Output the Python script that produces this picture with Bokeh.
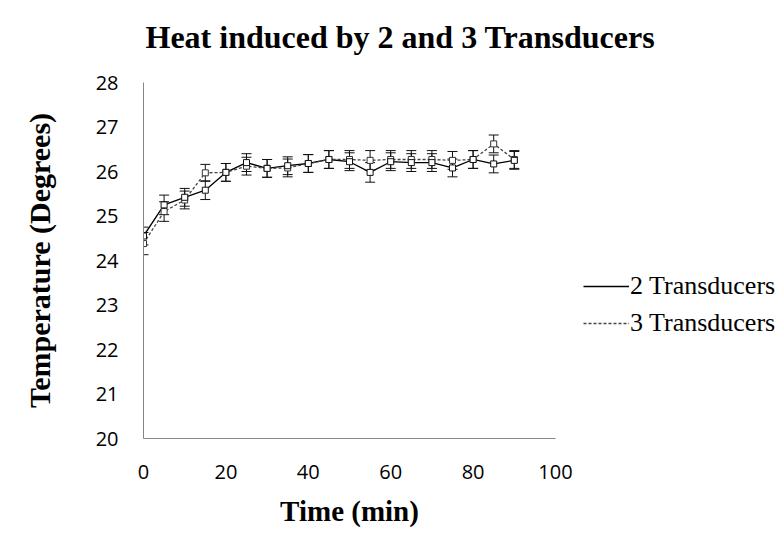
from bokeh.plotting import figure
from bokeh.models import ColumnDataSource, Whisker, TeeHead, Legend, LegendItem, FixedTicker, Range1d, Title
from bokeh.embed import file_html
from bokeh.resources import INLINE

time_min = [0, 5, 10, 15, 20, 25, 30, 35, 40, 45, 50, 55, 60, 65, 70, 75, 80, 85, 90]
temp_2 = [24.55, 25.25, 25.42, 25.58, 25.98, 26.2, 26.07, 26.13, 26.18, 26.27, 26.22, 25.98, 26.22, 26.2, 26.2, 26.08, 26.27, 26.17, 26.25]
temp_3 = [24.38, 25.1, 25.36, 25.97, 25.98, 26.12, 26.07, 26.08, 26.18, 26.27, 26.27, 26.25, 26.27, 26.27, 26.27, 26.25, 26.27, 26.62, 26.27]
err_2 = [0.2, 0.22, 0.2, 0.21, 0.2, 0.2, 0.2, 0.2, 0.2, 0.2, 0.2, 0.22, 0.2, 0.2, 0.2, 0.2, 0.2, 0.2, 0.2]
err_3 = [0.25, 0.22, 0.2, 0.19, 0.2, 0.2, 0.2, 0.2, 0.2, 0.2, 0.2, 0.22, 0.2, 0.2, 0.2, 0.2, 0.2, 0.2, 0.2]
x_ticks = [0, 20, 40, 60, 80, 100]
y_ticks = [20, 21, 22, 23, 24, 25, 26, 27, 28]

TITLE = "Heat induced by 2 and 3 Transducers"
SERIF = "Liberation Serif"
SANS = "Open Sans"
AXIS_GRAY = "#868686"

p = figure(
    frame_width=412, frame_height=356,
    min_border_left=143, min_border_right=221, min_border_top=82, min_border_bottom=101,
    x_range=Range1d(0, 100), y_range=Range1d(20, 28),
    output_backend="svg", toolbar_location=None,
)
p.title = None
p.background_fill_color = "white"
p.border_fill_color = "white"
p.outline_line_color = None
p.grid.visible = False

# spacer (nearest the frame) then the real title above it
p.add_layout(Title(text=" ", text_font_size="1px", standoff=20), "above")
p.add_layout(Title(text=TITLE, text_font=SERIF, text_font_style="bold",
                   text_font_size="32px", text_color="black",
                   align="left", offset=2, standoff=10), "above")

for ax, ticks in ((p.xaxis, x_ticks), (p.yaxis, y_ticks)):
    ax.ticker = FixedTicker(ticks=ticks)
    ax.axis_line_color = AXIS_GRAY
    ax.major_tick_in = 0
    ax.major_tick_out = 0
    ax.minor_tick_line_color = None
    ax.major_label_text_font = SANS
    ax.major_label_text_font_size = "20px"
    ax.major_label_text_color = "black"
    ax.axis_label_text_font = SERIF
    ax.axis_label_text_font_style = "bold"
    ax.axis_label_text_color = "black"

p.xaxis.axis_label = "Time (min)"
p.xaxis.axis_label_text_font_size = "29px"
p.xaxis.major_label_standoff = 26
p.xaxis.axis_label_standoff = 13
p.yaxis.axis_label = "Temperature (Degrees)"
p.yaxis.axis_label_text_font_size = "30px"
p.yaxis.major_label_standoff = 25
p.yaxis.axis_label_standoff = 37

src2 = ColumnDataSource(dict(x=time_min, y=temp_2,
                             lo=[v - e for v, e in zip(temp_2, err_2)],
                             hi=[v + e for v, e in zip(temp_2, err_2)]))
src3 = ColumnDataSource(dict(x=time_min, y=temp_3,
                             lo=[v - e for v, e in zip(temp_3, err_3)],
                             hi=[v + e for v, e in zip(temp_3, err_3)]))

r2 = p.line("x", "y", source=src2, line_color="black", line_width=1.3)
r3 = p.line("x", "y", source=src3, line_color="#444444", line_width=1.3, line_dash="3 2")

for src in (src3, src2):
    w = Whisker(source=src, base="x", lower="lo", upper="hi", dimension="height",
                line_color="#111111", line_width=1,
                lower_head=TeeHead(size=10, line_color="#111111", line_width=1),
                upper_head=TeeHead(size=10, line_color="#111111", line_width=1))
    p.add_layout(w)

p.scatter("x", "y", source=src3, marker="square", size=6, fill_color="white", line_color="#333333")
p.scatter("x", "y", source=src2, marker="square", size=6, fill_color="white", line_color="#111111")

legend = Legend(
    items=[LegendItem(label="2 Transducers", renderers=[r2]),
           LegendItem(label="3 Transducers", renderers=[r3])],
    location=(28, 100),
    label_text_font=SERIF, label_text_font_size="26px", label_text_color="black",
    glyph_width=46, glyph_height=30, label_height=30, spacing=7, label_standoff=1,
    padding=0, margin=0, border_line_alpha=0, background_fill_alpha=0,
)
p.add_layout(legend, "right")

open("out.html", "w").write(file_html(p, INLINE))
